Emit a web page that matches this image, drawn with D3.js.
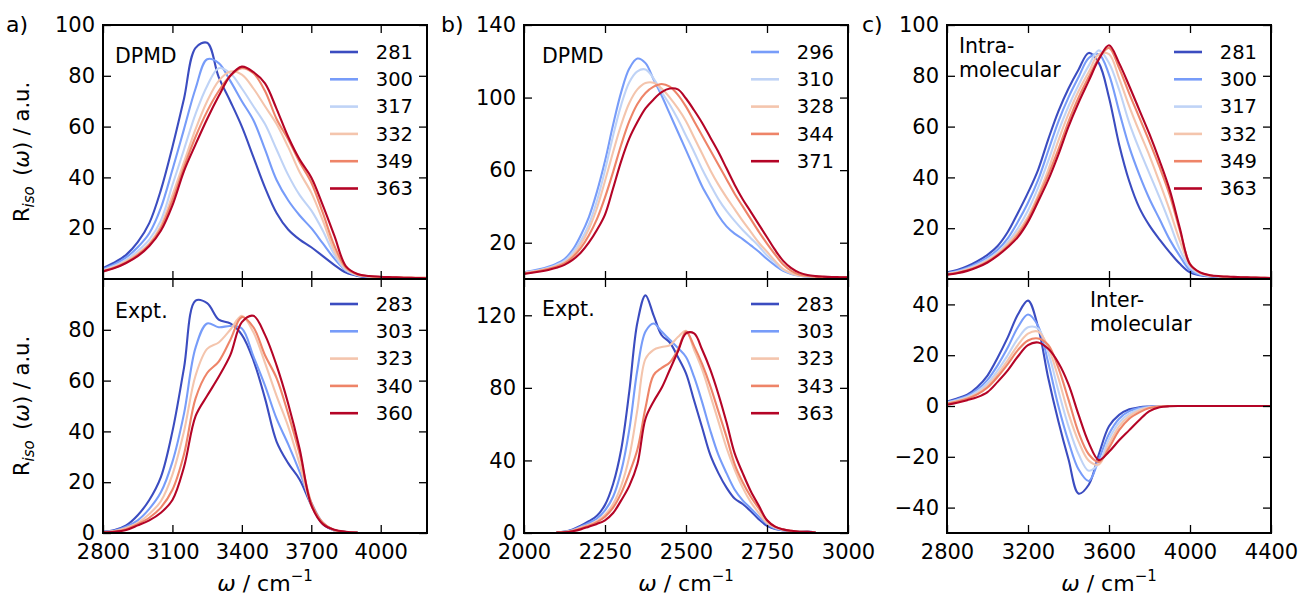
<!DOCTYPE html>
<html>
<head>
<meta charset="utf-8">
<script src="https://cdn.jsdelivr.net/npm/d3@7"></script>
<style>
  body { margin: 0; background: #fff; }
  text { font-family: "DejaVu Sans", sans-serif; fill: #000; }
</style>
</head>
<body>
<script>
// ---- data ----
// a) OH stretch, DPMD
var aX = [2800,2850,2900,2950,3000,3050,3100,3150,3200,3250,3300,3350,3400,3450,3500,3550,3600,3650,3700,3750,3800,3850,3900,3950,4000,4050,4100,4150,4200];
var aTopLabels = ["281","300","317","332","349","363"];
var aTop281 = [4.3,6.5,9.5,14.5,22,35,52,71,91,93,79.5,70,60,48,36,26,19.5,15.5,12.5,9,5.5,2.5,1.2,0.7,0.5,0.4,0.3,0.3,0.3];
var aTop300 = [3.9,5.8,8.5,12.5,18,28,43,59,75,86.5,85,78,70,62.5,51,39,31,25,20,14,8,3.3,1.5,0.9,0.6,0.5,0.4,0.4,0.4];
var aTop317 = [3.5,5.2,7.5,11,15.5,23,37,51,65,76,83,81,75,68,61,51,41,33,27,19,9.5,3.5,1.5,0.9,0.6,0.5,0.4,0.4,0.4];
var aTop332 = [3.2,4.8,7,10,14,21,33,46,59,70,78,81.7,80.5,75,68,61,52,42,34,23,11,4,1.6,1,0.7,0.6,0.5,0.5,0.5];
var aTop349 = [3,4.5,6.5,9.5,13.5,20,31,44,56,66,74,80,83,81,74,63,55,46,38,26,13,4.5,1.8,1.1,0.8,0.7,0.6,0.5,0.5];
var aTop363 = [3,4.3,6.3,9,13,19,29,42.5,53,63,72,80,83.6,81.5,77,67,56,47,40,29,17,5,2,1.2,0.9,0.7,0.5,0.4,0.3];

// a) OH stretch, experiment
var aExpX = [2800,2850,2900,2950,3000,3050,3100,3150,3200,3250,3300,3350,3400,3450,3500,3550,3600,3650,3700,3750,3800,3850,3900];
var aBotLabels = ["283","303","323","340","360"];
var aExp283 = [0.5,1.2,3,7,13,22,40,65,91.5,90.5,84,82.5,78,68,53,36,27.5,21,11,3.5,1,0.4,0.2];
var aExp303 = [0.5,1,2.5,5,9.5,16,28,47,73,82.5,81,81.5,80.5,69.5,58,45,35,24,12,4,1,0.4,0.2];
var aExp323 = [0.4,0.8,2,4,7.5,12.5,23,40,62,72.5,75,80,85.5,79,67,54,42,27,11,4,1,0.4,0.2];
var aExp340 = [0.3,0.6,1.5,3.5,6,10,17,31,53,63,67.5,76,85,81,70,61,47,31,12,4,1.2,0.4,0.2];
var aExp360 = [0.3,0.5,1.2,3,5,8,13,26,46,54,61.5,70,83,85.5,78,66,51,33,11,3.5,1.3,0.5,0.2];

// b) OD stretch, DPMD
var bX = [2000,2025,2050,2075,2100,2125,2150,2175,2200,2225,2250,2275,2300,2325,2350,2375,2400,2425,2450,2475,2500,2525,2550,2575,2600,2625,2650,2675,2700,2725,2750,2775,2800,2825,2850,2875,2900,2925,2950,2975,3000];
var bTopLabels = ["296","310","328","344","371"];
var bTop296 = [3.7,4.5,5.5,6.8,8.5,11,16,24,34,48,65,85,103,116,121.5,119,110,101,91,81,71,61,51,43,35,29,25,22,18.5,15,11,7.5,4.5,2.8,1.8,1.3,1.1,1,0.9,0.9,0.8];
var bTop310 = [3.5,4.2,5,6.2,7.8,10,14.5,21,30,43,60,79,96,108.5,114.5,115.5,110.5,103,96,88,79,70,60.5,52,44,37.5,32,27,22.5,18,13,9,5,3,1.9,1.4,1.1,1,0.9,0.9,0.8];
var bTop328 = [3.3,4,4.8,5.8,7.2,9.2,13,19,27.5,39,54,70,85,97,104.5,108,108.2,105,100,94,87,78,69,60,52,45,38.5,32,26,20,15,10,5.5,3.2,2,1.5,1.2,1,0.9,0.9,0.8];
var bTop344 = [3,3.7,4.5,5.5,6.8,8.6,12,17,24,33,45,59,74,87,96.5,102.5,106,107.5,106,101.5,95,87,79,71,63,55,47,40,33,26,19.5,13.5,8,4.5,2.5,1.7,1.3,1.1,1,0.9,0.9];
var bTop371 = [2.8,3.4,4.1,5,6.2,7.8,10.5,14.5,20,27,35.5,50,65,77.5,86.5,94,99,103,105,104.5,99.5,93,86,78,70,61,52,44,37,30,23,16,10,6,3.5,2.2,1.6,1.3,1.1,1,0.9];

// b) OD stretch, experiment
var bExpX = [2100,2125,2150,2175,2200,2225,2250,2275,2300,2325,2350,2375,2400,2425,2450,2475,2500,2525,2550,2575,2600,2625,2650,2675,2700,2725,2750,2775,2800,2825,2850,2875,2900];
var bBotLabels = ["283","303","323","343","363"];
var bExp283 = [0.3,0.8,2,4,6.5,9.5,15.5,27,46,78,116,131,120,109,105,97,88,73,58,43,33,25,19,16,12,7.5,4,2.2,1.5,1,0.6,0.8,0.2];
var bExp303 = [0.3,0.7,1.7,3.5,5.5,8,12.5,20,34,57,90,111,115.5,111,106.5,102,97,86,72,56.5,43,33,24,18,13.5,9,5,2.5,1.5,1,0.6,0.6,0.2];
var bExp323 = [0.3,0.6,1.4,3,4.5,6.5,10,16,26,42,68,96,101,102.5,103.5,108,111.5,101,90,76,61.5,47,35,25,17,11,5.5,3,1.7,1.1,0.7,0.6,0.2];
var bExp343 = [0.2,0.5,1.2,2.5,4,6,9,14,22,33,46,69,87,91,94,101,111,103,93,81,67,53,38,28,20,13.5,7,3.5,1.9,1.2,0.7,0.6,0.2];
var bExp363 = [0.2,0.4,1,2,3.5,5,7,11,18,26,38,63,72.5,80,90,100,110,110,101,90,76.5,61,44,33,23,15,7,3.5,2,1.2,0.7,0.6,0.2];

// c) intra / inter molecular decomposition
var cX = [2800,2850,2900,2950,3000,3050,3100,3150,3200,3250,3300,3350,3400,3450,3500,3550,3600,3650,3700,3750,3800,3850,3900,3950,4000,4050,4100,4150,4200,4250,4300,4350,4400];
var cTop281 = [2.6,3.5,5,7,9.5,13,18.5,26,34,43,55,66,75,82.5,89,85,71.5,53,38.5,28,21,15.5,10.5,6,2.6,1.5,1,0.8,0.6,0.5,0.4,0.4,0.3];
var cTop300 = [2.3,3.1,4.4,6.2,8.5,11.5,16,22.5,30,39,50.5,62,71.5,79.5,87,88.5,80.5,66,52,41,31.5,23.5,15.5,9,3.5,1.7,1.1,0.8,0.6,0.5,0.4,0.4,0.3];
var cTop317 = [2.1,2.8,4,5.6,7.7,10.5,14.5,20,27,36,46.5,58,68,76.5,84,90,85,74.5,61.5,51,41.5,32,22,11.5,4.5,2,1.2,0.9,0.7,0.6,0.5,0.4,0.4];
var cTop332 = [2,2.6,3.7,5.2,7.2,10,13.8,18.5,24.5,33,43,54.5,65,74,81.5,88.5,88.5,79,68,58,48.5,38,27,15,5.5,2.3,1.3,1,0.8,0.6,0.5,0.5,0.4];
var cTop349 = [1.8,2.4,3.4,4.8,6.8,9.5,13,17.5,23.5,32,41,51,62,71.5,79.5,87,91,83,73,63.5,54,44,33,19,6,2.5,1.4,1,0.8,0.7,0.6,0.5,0.4];
var cTop363 = [1.7,2.3,3.2,4.6,6.5,9.2,12.5,16.5,22.5,30.5,39,49,60,69.5,78,86.5,92,85,76,66.5,57,46.5,35,20,5.8,2.6,1.5,1.1,0.9,0.7,0.6,0.5,0.4];
var cBot281 = [1.7,3,4.5,7.5,12,19,27,36,41.5,31,11,-6,-21,-34.5,-31,-19,-8,-3.5,-1.3,-0.5,-0.2,0,0,0,0,0,0,0,0,0,0,0,0];
var cBot300 = [1.5,2.6,4,6.5,10.3,16,23,31,36,31.5,17,0,-14,-25,-29.5,-21,-11,-5,-2,-0.8,-0.3,-0.1,0,0,0,0,0,0,0,0,0,0,0];
var cBot317 = [1.3,2.3,3.6,5.8,9,14,20,26.5,31,30.5,21,6,-8,-19,-25.5,-22.5,-13,-6.5,-3,-1.3,-0.5,-0.1,0,0,0,0,0,0,0,0,0,0,0];
var cBot332 = [1.1,2,3.2,5,8,12.5,18,24,28.5,29.3,23,11,-3,-14,-21.5,-23,-15,-8,-4,-1.8,-0.6,-0.2,0,0,0,0,0,0,0,0,0,0,0];
var cBot349 = [1,1.8,2.9,4.6,7.3,11.5,16.5,22,25.8,26.6,24,15,2.5,-10.5,-19,-22,-16.5,-9.5,-5,-2.5,-0.8,-0.2,0,0,0,0,0,0,0,0,0,0,0];
var cBot363 = [0.5,1.3,2.3,3.5,5.5,9.5,14,19.5,24,25,22.5,17,8.5,-3.5,-14.5,-21.3,-18,-13.5,-9.5,-5.5,-2,-0.5,-0.1,0,0,0,0,0,0,0,0,0,0];

// axis ticks
var aXTicks = [2800,3100,3400,3700,4000];
var bXTicks = [2000,2250,2500,2750,3000];
var cXTicks = [2800,3200,3600,4000,4400];
var yTicks100 = [20,40,60,80,100];
var yTicks80 = [0,20,40,60,80];
var bTopYTicks = [20,60,100,140];
var bBotYTicks = [0,40,80,120];
var cBotYTicks = [-40,-20,0,20,40];

// coolwarm samples
var cw6 = ["#3b4cc0","#779cf9","#bfd3f6","#f4c5ad","#ee8468","#b40426"];
var cwB = ["#779cf9","#bfd3f6","#f4c5ad","#ee8468","#b40426"];
var cw5 = ["#3b4cc0","#779cf9","#f4c5ad","#ee8468","#b40426"];

var W = 1302, H = 600;
var svg = d3.select("body").append("svg").attr("width", W).attr("height", H);

var PW = 324, TOP = 25, MID = 279, BOT = 533;
var clipN = 0;

function drawPanel(p) {
  var top = p.upper ? TOP : MID, bottom = p.upper ? MID : BOT;
  var x = d3.scaleLinear().domain(p.xDomain).range([p.left, p.left + PW]);
  var y = d3.scaleLinear().domain(p.yDomain).range([bottom, top]);
  var g = svg.append("g");

  var cid = "clip" + (clipN++);
  svg.append("clipPath").attr("id", cid).append("rect")
    .attr("x", p.left).attr("y", top).attr("width", PW).attr("height", bottom - top);

  var line = d3.line()
    .x(function(d, i) { return x(p.xs[i]); })
    .y(function(d) { return y(d); })
    .curve(d3.curveCatmullRom);

  g.append("g").attr("clip-path", "url(#" + cid + ")")
    .selectAll("path").data(p.series).join("path")
    .attr("d", line)
    .attr("fill", "none")
    .attr("stroke", function(d, i) { return p.colors[i]; })
    .attr("stroke-width", 2.1)
    .attr("stroke-linejoin", "round");

  var fmt = function(d) { return String(d).replace("-", "\u2212"); };
  var axes = [
    g.append("g").attr("transform", "translate(" + p.left + ",0)")
      .call(d3.axisLeft(y).tickValues(p.yTicks).tickSize(-8).tickPadding(8).tickFormat(fmt)),
    g.append("g").attr("transform", "translate(" + (p.left + PW) + ",0)")
      .call(d3.axisRight(y).tickValues(p.yTicks).tickSize(-8).tickFormat("")),
    g.append("g").attr("transform", "translate(0," + top + ")")
      .call(d3.axisTop(x).tickValues(p.xTicks).tickSize(-8).tickFormat("")),
    g.append("g").attr("transform", "translate(0," + bottom + ")")
      .call(d3.axisBottom(x).tickValues(p.xTicks).tickSize(-8).tickPadding(11)
        .tickFormat(p.upper ? "" : fmt))
  ];
  axes.forEach(function(a) {
    a.attr("font-size", null).attr("font-family", null);
    a.select(".domain").remove();
    a.selectAll(".tick line").attr("stroke", "#000").attr("stroke-width", 1.3);
    a.selectAll(".tick text").style("font-size", "21px").attr("fill", "#000");
  });

  g.append("rect").attr("x", p.left).attr("y", top).attr("width", PW).attr("height", bottom - top)
    .attr("fill", "none").attr("stroke", "#000").attr("stroke-width", 2);

  // legend
  if (p.labels) {
    var lg = g.append("g");
    var row = lg.selectAll("g").data(p.labels).join("g")
      .attr("transform", function(d, i) { return "translate(0," + (top + p.legTop + i * 27.3) + ")"; });
    row.append("line")
      .attr("x1", p.left + 227).attr("x2", p.left + 255)
      .attr("stroke", function(d, i) { return p.colors[i]; })
      .attr("stroke-width", 2.6);
    row.append("text")
      .attr("x", p.left + 310).attr("dy", "0.35em")
      .attr("text-anchor", "end")
      .style("font-size", "19.5px")
      .text(function(d) { return d; });
  }

  // annotation
  if (p.note) {
    g.selectAll("text.note").data(p.note).join("text").attr("class", "note")
      .attr("x", p.left + p.noteX)
      .attr("y", function(d, i) { return top + p.noteY + i * 24; })
      .style("font-size", "20.5px")
      .text(function(d) { return d; });
  }

  // x label
  if (!p.upper) {
    var xl = svg.append("text")
      .attr("x", p.left + PW / 2).attr("y", 591)
      .attr("text-anchor", "middle")
      .style("font-size", "22px");
    xl.append("tspan").style("font-style", "italic").text("\u03c9");
    xl.append("tspan").text(" / cm");
    xl.append("tspan").attr("dy", -10).style("font-size", "15px").text("\u22121");
  }

  // y label
  if (p.ylabel) {
    var cy = (top + bottom) / 2;
    var yl = svg.append("text")
      .attr("transform", "translate(29," + cy + ") rotate(-90)")
      .attr("text-anchor", "middle")
      .style("font-size", "21px");
    yl.append("tspan").text("R");
    yl.append("tspan").attr("dy", 5).style("font-size", "15px").style("font-style", "italic").text("iso");
    yl.append("tspan").attr("dy", -5).text("\u2002(");
    yl.append("tspan").style("font-style", "italic").text("\u03c9");
    yl.append("tspan").text(") / a.u.");
  }
}

drawPanel({ upper: true, left: 103, xDomain: [2800, 4200], yDomain: [0, 100], xs: aX,
  series: [aTop281, aTop300, aTop317, aTop332, aTop349, aTop363], colors: cw6,
  xTicks: aXTicks, yTicks: yTicks100, labels: aTopLabels, legTop: 27,
  note: ["DPMD"], noteX: 12, noteY: 38, ylabel: true });
drawPanel({ upper: false, left: 103, xDomain: [2800, 4200], yDomain: [0, 100], xs: aExpX,
  series: [aExp283, aExp303, aExp323, aExp340, aExp360], colors: cw5,
  xTicks: aXTicks, yTicks: yTicks80, labels: aBotLabels, legTop: 25,
  note: ["Expt."], noteX: 12, noteY: 39, ylabel: true });

drawPanel({ upper: true, left: 524, xDomain: [2000, 3000], yDomain: [0, 140], xs: bX,
  series: [bTop296, bTop310, bTop328, bTop344, bTop371], colors: cwB,
  xTicks: bXTicks, yTicks: bTopYTicks, labels: bTopLabels, legTop: 27,
  note: ["DPMD"], noteX: 18, noteY: 38 });
drawPanel({ upper: false, left: 524, xDomain: [2000, 3000], yDomain: [0, 140], xs: bExpX,
  series: [bExp283, bExp303, bExp323, bExp343, bExp363], colors: cw5,
  xTicks: bXTicks, yTicks: bBotYTicks, labels: bBotLabels, legTop: 25,
  note: ["Expt."], noteX: 18, noteY: 37 });

drawPanel({ upper: true, left: 947, xDomain: [2800, 4400], yDomain: [0, 100], xs: cX,
  series: [cTop281, cTop300, cTop317, cTop332, cTop349, cTop363], colors: cw6,
  xTicks: cXTicks, yTicks: yTicks100, labels: aTopLabels, legTop: 27,
  note: ["Intra-", "molecular"], noteX: 12, noteY: 28 });
drawPanel({ upper: false, left: 947, xDomain: [2800, 4400], yDomain: [-50, 50], xs: cX,
  series: [cBot281, cBot300, cBot317, cBot332, cBot349, cBot363], colors: cw6,
  xTicks: cXTicks, yTicks: cBotYTicks,
  note: ["Inter-", "molecular"], noteX: 143, noteY: 28 });

// panel letters
svg.selectAll("text.letter").data([["a)", 6], ["b)", 441], ["c)", 862]]).join("text")
  .attr("class", "letter")
  .attr("x", function(d) { return d[1]; }).attr("y", 32)
  .style("font-size", "22px")
  .text(function(d) { return d[0]; });
</script>
</body>
</html>
